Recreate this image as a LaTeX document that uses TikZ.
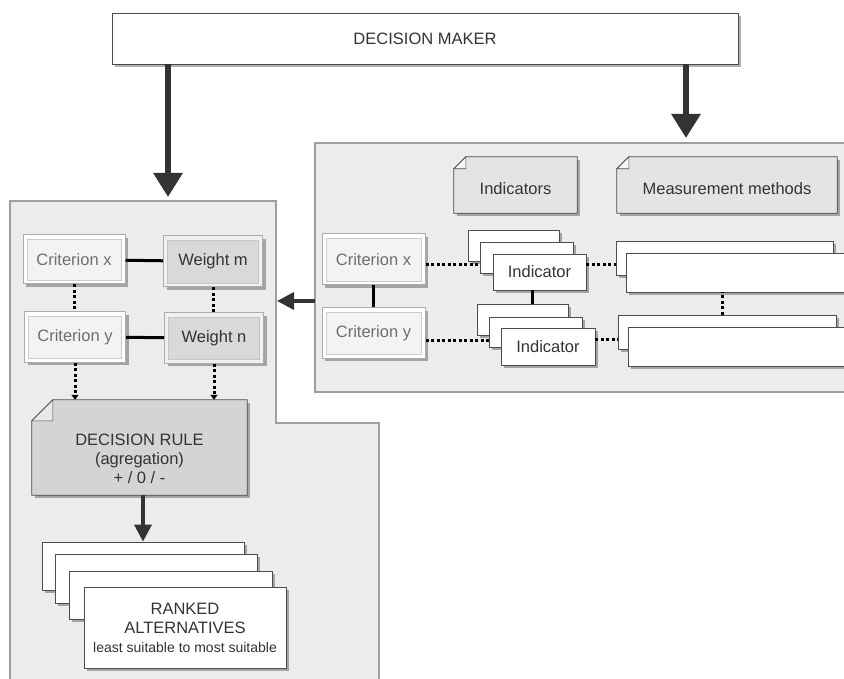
\documentclass[tikz,border=0pt]{standalone}
\usepackage{fontspec}
\setmainfont{Liberation Sans}
\usetikzlibrary{arrows.meta, positioning, shadows}
\definecolor{panelfill}{HTML}{ECECEC}
\definecolor{critfill}{HTML}{F3F3F3}
\definecolor{weightfill}{HTML}{D9D9D9}
\definecolor{docfill}{HTML}{E4E4E4}
\definecolor{rulefill}{HTML}{D4D4D4}
\definecolor{arrowgray}{HTML}{333333}
\definecolor{txtgray}{HTML}{333333}
\definecolor{crittext}{HTML}{6E6E6E}

% folded corner on a doc node: node, corner size, fold fill
\newcommand{\dogear}[3]{%
  \fill[panelfill] (#1.north west) -- ([xshift=#2]#1.north west) -- ([yshift=-#2]#1.north west) -- cycle;
  \draw[docedge] ([xshift=#2]#1.north west) -- (#1.north east) -- (#1.south east) -- (#1.south west) -- ([yshift=-#2]#1.north west) -- cycle;
  \filldraw[docedge, line width=0.6pt, fill=#3] ([xshift=#2]#1.north west) -- ([xshift=#2, yshift=-#2]#1.north west) -- ([yshift=-#2]#1.north west) -- cycle;}

\begin{document}
\begin{tikzpicture}[x=1pt, y=-1pt,
  every node/.style={font=\fontsize{16.5}{19}\selectfont, inner sep=0pt, align=center, text=txtgray},
  shade/.style={drop shadow={shadow xshift=3pt, shadow yshift=-3pt, fill=black, opacity=0.3}},
  panel/.style={fill=panelfill, draw=gray!75, line width=1.5pt},
  card/.style={rectangle, draw=gray!60!black, line width=0.8pt, fill=white, shade},
  crit/.style={rectangle, draw=gray!65, line width=1pt, fill=white, text=crittext, shade,
    path picture={\filldraw[fill=critfill, draw=gray!40, line width=0.8pt]
      ([shift={(4pt,-4pt)}]path picture bounding box.north west) rectangle
      ([shift={(-4pt,4pt)}]path picture bounding box.south east);}},
  weight/.style={rectangle, draw=gray!65, line width=1pt, fill=gray!12, text=txtgray, shade,
    path picture={\filldraw[fill=weightfill, draw=gray!45, line width=0.8pt]
      ([shift={(4pt,-4pt)}]path picture bounding box.north west) rectangle
      ([shift={(-4pt,4pt)}]path picture bounding box.south east);}},
  doc/.style={rectangle, fill=docfill, shade},
  docedge/.style={draw=gray!60!black, line width=0.8pt},
  link/.style={line width=3pt, black},
  dots/.style={line width=3pt, black, dash pattern=on 3pt off 2.5pt},
  bigarrow/.style={line width=6pt, arrowgray, -{Triangle[width=28pt, length=24pt]}},
  midarrow/.style={line width=3.5pt, arrowgray, -{Triangle[width=17pt, length=17pt]}},
  dotarrow/.style={dots, -{Triangle[width=7pt, length=5pt]}}]
  \path[use as bounding box, fill=white] (0,0) rectangle (844,679);
  \clip (0,0) rectangle (844,679);

  % Panels
  \draw[panel] (10,201) -- (276,201) -- (276,423) -- (379,423) -- (379,700) -- (10,700) -- cycle;
  \draw[panel] (315,143) rectangle (870,392);
  \coordinate (lptop) at (168,201);
  \coordinate (rptop) at (686,143);
  \coordinate (lpeast) at (277,301);
  \coordinate (rpwest) at (315,301);

  % Decision maker
  \node[card, minimum width=626pt, minimum height=51pt] (dm) at (425,38.5) {DECISION MAKER};
  \draw[bigarrow, shorten >=4pt] (dm.south -| lptop) -- (lptop);
  \draw[bigarrow, shorten >=5pt] (dm.south -| rptop) -- (rptop);
  \draw[midarrow] (rpwest) -- (lpeast);

  % Left panel: criteria and weights
  \node[crit, minimum width=102pt, minimum height=49pt] (cxl) at (74,259.5) {Criterion x};
  \node[weight, minimum width=99pt, minimum height=51pt] (wm) at (213,261.5) {Weight m};
  \node[crit, minimum width=101pt, minimum height=50pt] (cyl) at (75,337) {Criterion y};
  \node[weight, minimum width=99pt, minimum height=50pt] (wn) at (214,338) {Weight n};
  \draw[link] (cxl) -- (wm);
  \draw[link] (cyl) -- (wn);
  \draw[dots] (cxl.south) -- (cxl.south |- cyl.north);
  \draw[dots] (wm.south) -- (wm.south |- wn.north);

  % Decision rule
  \node[doc, fill=rulefill, minimum width=215pt, minimum height=95pt] (dr) at (139.5,447.5) {};
  \dogear{dr}{21pt}{gray!18}
  \node (drtext) at ([yshift=-11pt]dr.center) {DECISION RULE\\(agregation)\\+ / 0 / -};
  \draw[dotarrow] (cyl.south) -- (cyl.south |- dr.north);
  \draw[dotarrow] (wn.south) -- (wn.south |- dr.north);

  % Ranked alternatives
  \node[card, minimum width=202pt, minimum height=48pt] (rk1) at (143,566) {};
  \node[card, minimum width=202pt, minimum height=49pt] (rk2) at (156,578.5) {};
  \node[card, minimum width=203pt, minimum height=48pt] (rk3) at (170.5,595) {};
  \node[card, minimum width=202pt, minimum height=81pt] (rk4) at (185,627.5)
    {RANKED\\ALTERNATIVES\\{\fontsize{14}{19}\selectfont least suitable to most suitable}};
  \draw[midarrow] (dr.south -| rk1) -- (rk1.north);

  % Right panel: headers
  \node[doc, minimum width=123pt, minimum height=56pt] (ind) at (515.5,185) {};
  \dogear{ind}{12pt}{gray!8}
  \node (indtext) at ([yshift=-4pt]ind.center) {Indicators};
  \node[doc, minimum width=220pt, minimum height=56pt] (meas) at (727,185) {};
  \dogear{meas}{12pt}{gray!8}
  \node (meastext) at ([yshift=-4pt]meas.center) {Measurement methods};

  % Right panel: criteria
  \node[crit, minimum width=103pt, minimum height=51pt] (cxr) at (373.5,259.5) {Criterion x};
  \node[crit, minimum width=103pt, minimum height=50pt] (cyr) at (373.5,333) {Criterion y};
  \draw[link] (cxr) -- (cyr);

  % Indicator stacks
  \node[card, minimum width=91pt, minimum height=31pt] (i1a) at (513.5,245.5) {};
  \node[card, minimum width=93pt, minimum height=31pt] (i1b) at (526.5,257.5) {};
  \node[card, minimum width=93pt, minimum height=36pt] (i1c) at (539.5,272) {Indicator};
  \node[card, minimum width=91pt, minimum height=31pt] (i2a) at (522.5,319.5) {};
  \node[card, minimum width=93pt, minimum height=30pt] (i2b) at (535.5,332) {};
  \node[card, minimum width=94pt, minimum height=37pt] (i2c) at (548,346.5) {Indicator};
  \draw[link] ([xshift=-7pt]i1c.south) -- ([xshift=-7pt]i1c.south |- i2a.north);

  % Measurement stacks
  \node[card, minimum width=217pt, minimum height=34pt] (m1a) at (724.5,258) {};
  \node[card, minimum width=224pt, minimum height=39pt] (m1b) at (738,272.5) {};
  \node[card, minimum width=218pt, minimum height=34pt] (m2a) at (727,332) {};
  \node[card, minimum width=224pt, minimum height=39pt] (m2b) at (740,346.5) {};
  \draw[dots] ([xshift=-5pt]m2a.north) -- ([xshift=-5pt]m2a.north |- m1b.south);

  % Dotted links across the right panel
  \draw[dots] ([yshift=-5.5pt]cxr.east) -- ([yshift=-5.5pt]cxr.east -| i1b.west);
  \draw[dots] ([yshift=7pt]i1c.east) -- ([yshift=7pt]i1c.east -| m1a.west);
  \draw[dots] ([yshift=-7pt]cyr.east) -- ([yshift=-7pt]cyr.east -| i2b.west);
  \draw[dots] ([yshift=7.5pt]i2c.east) -- ([yshift=7.5pt]i2c.east -| m2a.west);
\end{tikzpicture}
\end{document}
